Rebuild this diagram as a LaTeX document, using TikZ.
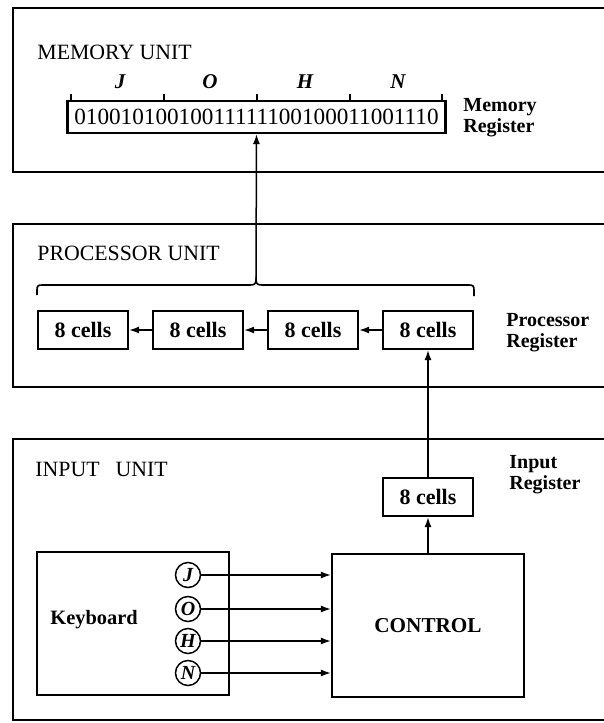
\documentclass[tikz,border=0pt]{standalone}
\usepackage{fontspec}
\setmainfont{Liberation Serif}
\usetikzlibrary{arrows.meta}
\begin{document}
\begin{tikzpicture}[x=0.5pt,y=-0.5pt,
  unitframe/.style={line width=1.4pt},
  cellbox/.style={draw,line width=1.1pt,minimum width=45pt,minimum height=19pt,inner sep=0pt,font=\fontsize{11}{12}\selectfont\bfseries},
  bigbox/.style={draw,line width=1.1pt,minimum width=96pt,minimum height=71.5pt,inner sep=0pt},
  title/.style={anchor=west,inner sep=0pt,font=\fontsize{10.9}{12}\selectfont},
  side/.style={anchor=west,inner sep=0pt,align=left,font=\fontsize{10}{10.5}\selectfont\bfseries},
  conn/.style={line width=0.75pt,-{Latex[length=5pt,width=3.5pt]}},
  key/.style={draw,circle,line width=0.75pt,minimum size=12.5pt,inner sep=0pt,font=\fontsize{10}{10}\selectfont\bfseries\itshape},
  letter/.style={inner sep=0pt,font=\fontsize{10.5}{11}\selectfont\bfseries\itshape},
  tick/.style={line width=0.8pt}]
\useasboundingbox (0,0) rectangle (604,723);

% unit frames (open on the right, cut by the picture edge)
\draw[unitframe] (604,8) -- (13,8) -- (13,172) -- (604,172);
\draw[unitframe] (604,224) -- (13,224) -- (13,387) -- (604,387);
\draw[unitframe] (604,439) -- (13,439) -- (13,720) -- (604,720);

% ---------------- memory unit
\node[title] (memtitle) at (37,52) {MEMORY UNIT};
\node[draw,line width=1.1pt,minimum width=189pt,minimum height=16pt,inner sep=0pt,
      font=\fontsize{11.6}{12}\selectfont] (memreg) at (256.5,117) {01001010010011111100100011001110};
\foreach \tx in {71,164,257,350,442}
  \draw[tick] (\tx,101) -- (\tx,94);
\node[letter] (lJ) at (120,82) {J};
\node[letter] (lO) at (210,82) {O};
\node[letter] (lH) at (305,82) {H};
\node[letter] (lN) at (398,82) {N};
\node[side] (memlab) at (463,118) {Memory\\Register};

% ---------------- processor unit
\node[title] (proctitle) at (37,253) {PROCESSOR UNIT};
\draw[line width=0.8pt] (37,295) -- (37,290) .. controls (37,286) and (38,285) .. (42,285)
  -- (250,285) .. controls (254,285) and (256,284) .. (256,280)
  .. controls (256,284) and (258,285) .. (262,285)
  -- (469,285) .. controls (473,285) and (474,286) .. (474,290) -- (474,296);
\coordinate (bracetip) at (256,280);
\draw[conn] (bracetip) -- (memreg.south);

\node[cellbox] (p1) at (83,330) {8 cells};
\node[cellbox] (p2) at (198,330) {8 cells};
\node[cellbox] (p3) at (313,330) {8 cells};
\node[cellbox] (p4) at (428,330) {8 cells};
\draw[conn] (p2.west) -- (p1.east);
\draw[conn] (p3.west) -- (p2.east);
\draw[conn] (p4.west) -- (p3.east);
\node[side] (proclab) at (506,333) {Processor\\Register};

% ---------------- input unit
\node[title] (intitle) at (35,469) {INPUT\hspace{8pt}UNIT};
\node[side] (inlab) at (509,475) {Input\\Register};
\node[cellbox] (inreg) at (428,497) {8 cells};
\node[bigbox,font=\fontsize{10.6}{12}\selectfont\bfseries] (ctrl) at (428,625.5) {CONTROL};
\node[bigbox] (kbd) at (133,623.5) {};
\node[anchor=west,inner sep=0pt,font=\fontsize{10.2}{12}\selectfont\bfseries] (kbdlab) at (50,620) {Keyboard};
\node[key] (kJ) at (188,575) {J};
\node[key] (kO) at (188,609) {O};
\node[key] (kH) at (188,641) {H};
\node[key] (kN) at (188,673) {N};
\foreach \k in {kJ,kO,kH,kN}
  \draw[conn] (\k.east) -- (\k.east -| ctrl.west);
\draw[conn] (ctrl.north) -- (inreg.south);
\draw[conn] (inreg.north) -- (p4.south);
\end{tikzpicture}
\end{document}
